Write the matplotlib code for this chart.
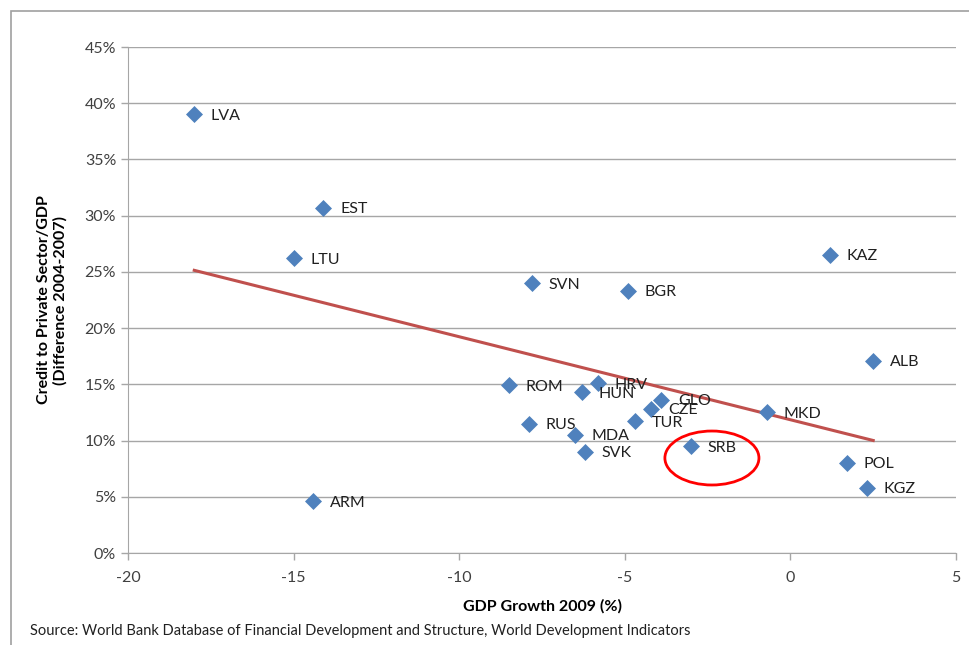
import matplotlib
matplotlib.use("Agg")
import matplotlib.pyplot as plt
import numpy as np
from matplotlib.patches import Ellipse, Rectangle
from matplotlib.ticker import FuncFormatter, MultipleLocator

plt.rcParams['font.family'] = ['Lato', 'DejaVu Sans']
plt.rcParams['axes.unicode_minus'] = False

countries = ["LVA", "EST", "LTU", "SVN", "BGR", "KAZ", "ALB", "ROM", "HRV", "HUN",
             "GLO", "CZE", "TUR", "MKD", "RUS", "MDA", "SVK", "SRB", "POL", "KGZ", "ARM"]
gdp_growth = [-18.0, -14.1, -15.0, -7.8, -4.9, 1.2, 2.5, -8.5, -5.8, -6.3,
              -3.9, -4.2, -4.7, -0.7, -7.9, -6.5, -6.2, -3.0, 1.7, 2.3, -14.4]
credit_diff = [39.0, 30.7, 26.2, 24.0, 23.3, 26.5, 17.1, 14.9, 15.1, 14.3,
               13.6, 12.8, 11.7, 12.5, 11.5, 10.5, 9.0, 9.5, 8.0, 5.8, 4.6]

fig = plt.figure(figsize=(9.69, 6.45), dpi=100)
ax = fig.add_axes([0.1321, 0.1426, 0.8545, 0.7845])

# outer border
fig.patches.append(Rectangle((11/969, -0.05), 1.2, 1 - 11/645 + 0.05, transform=fig.transFigure,
                             fill=False, edgecolor='#a0a0a0', linewidth=1.2))

ax.set_xlim(-20, 5)
ax.set_ylim(0, 45)
ax.xaxis.set_major_locator(MultipleLocator(5))
ax.yaxis.set_major_locator(MultipleLocator(5))
ax.xaxis.set_major_formatter(FuncFormatter(lambda v, p: f"{v:.0f}"))
ax.yaxis.set_major_formatter(FuncFormatter(lambda v, p: f"{v:.0f}%"))
ax.grid(axis='y', color='#a6a6a6', linewidth=1.0)
ax.set_axisbelow(True)
for s in ['top', 'right']:
    ax.spines[s].set_visible(False)
for s in ['left', 'bottom']:
    ax.spines[s].set_color('#a6a6a6')
ax.tick_params(axis='both', colors='#a6a6a6', length=5, width=1, labelcolor='#404040', labelsize=11.5)
ax.tick_params(axis='x', pad=8)

x = np.array(gdp_growth)
y = np.array(credit_diff)
ax.scatter(x, y, marker='D', s=75, color='#4F81BD', zorder=3, linewidths=0)

coef = np.polyfit(x, y, 1)
xs = np.array([x.min(), x.max()])
ax.plot(xs, np.polyval(coef, xs), color='#C0504D', linewidth=2.2, zorder=2)

for c, xi, yi in zip(countries, x, y):
    ax.annotate(c, (xi, yi), xytext=(12, -1), textcoords='offset points', va='center',
                ha='left', fontsize=11.5, color='#202020', zorder=4)

ax.add_patch(Ellipse((-2.37, 8.45), 2.84, 4.8, fill=False, edgecolor='#FF0000', linewidth=2.0, zorder=5))

ax.set_xlabel("GDP Growth 2009 (%)", fontsize=11.5, fontweight='bold', labelpad=10)
ax.set_ylabel("Credit to Private Sector/GDP\n(Difference 2004-2007)", fontsize=11.5,
              fontweight='bold', labelpad=12)

fig.text(30/969, 1 - 631/645, "Source: World Bank Database of Financial Development and Structure, World Development Indicators",
         fontsize=10.5, va='center', ha='left', color='#202020')

fig.savefig("out.png", dpi=100)
